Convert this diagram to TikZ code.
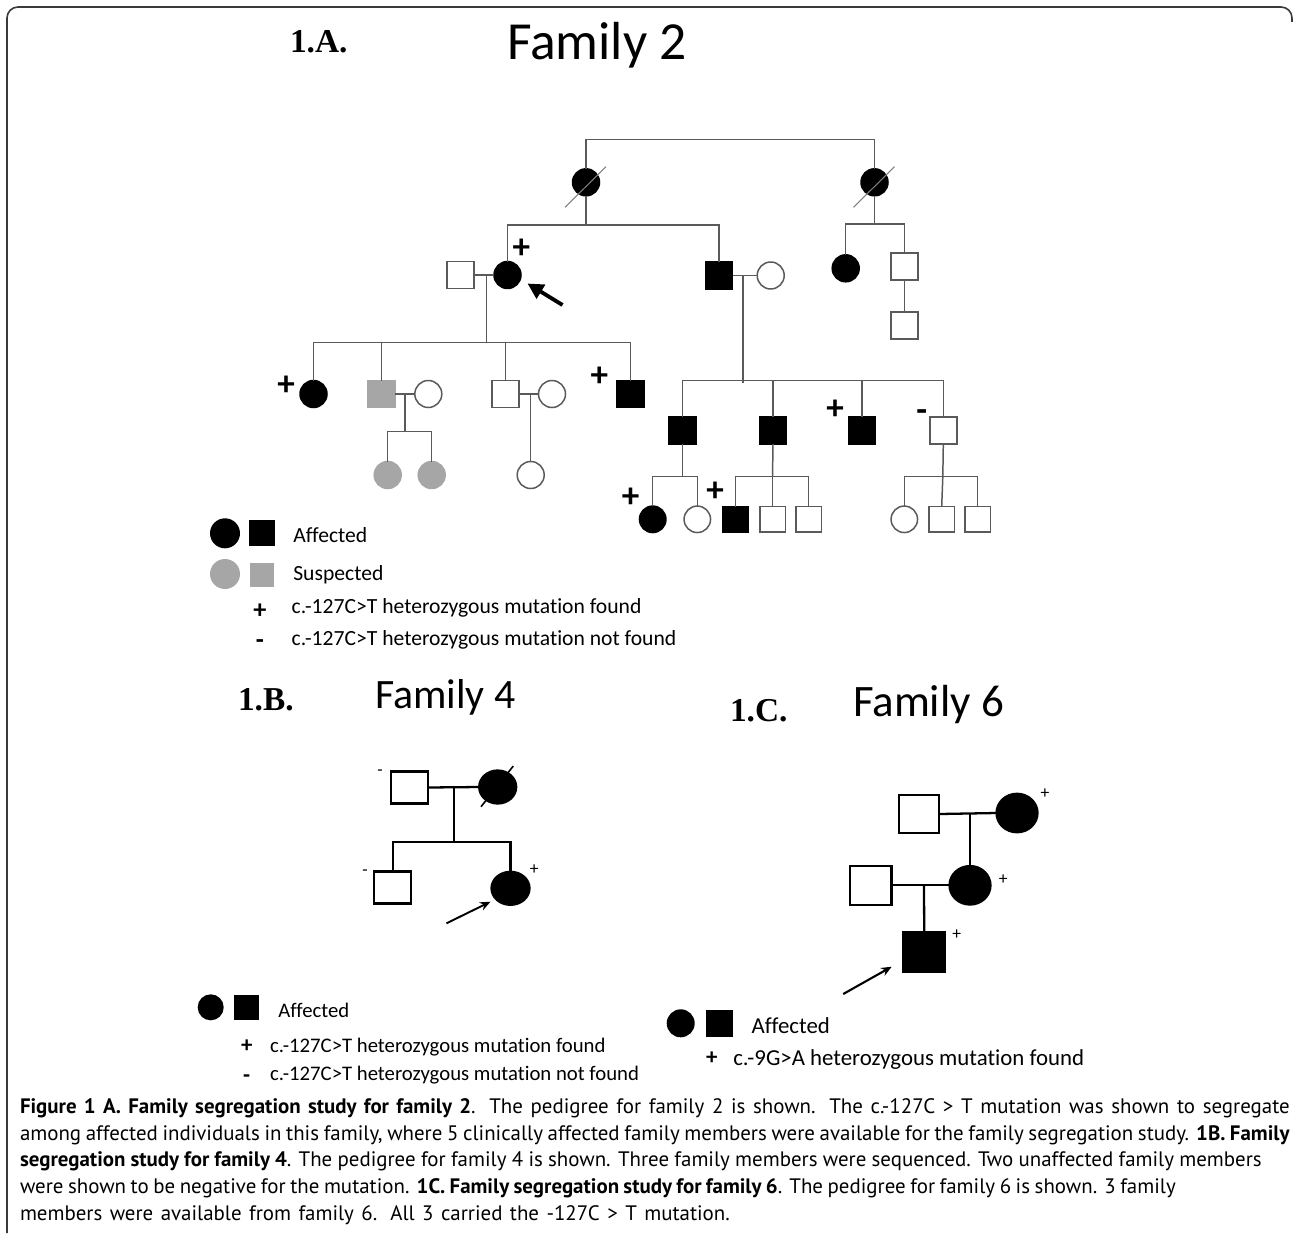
\documentclass[tikz,border=0pt]{standalone}
\usepackage{fontspec}
\setmainfont{Carlito}[Ligatures=NoCommon]
\newfontfamily\tnr{Liberation Serif}
\newfontfamily\capfont{PT Sans}
\usetikzlibrary{calc,arrows.meta,shapes.geometric}
\definecolor{susgray}{HTML}{A6A6A6}
\definecolor{lngray}{HTML}{5A5A5A}
\definecolor{framec}{HTML}{3A3A3A}
\begin{document}
\begin{tikzpicture}[x=0.02cm,y=-0.02cm,
  every node/.style={inner sep=0pt, outer sep=0pt},
  pa/.style={line width=0.85pt, draw=lngray},
  pb/.style={line width=1.3pt, draw=black},
  sqA/.style={rectangle, draw=lngray, line width=0.85pt, minimum size=0.54cm, fill=white},
  ciA/.style={circle, draw=lngray, line width=0.85pt, minimum size=0.54cm, fill=white},
  sqS/.style={sqA, minimum size=0.51cm},
  ciS/.style={ciA, minimum size=0.53cm},
  aff/.style={fill=black, draw=black},
  sus/.style={fill=susgray, draw=susgray},
  dec/.style={line width=0.6pt, draw=gray},
  pmA/.style={font=\fontsize{20}{20}\selectfont\bfseries, anchor=base},
  pmB/.style={font=\fontsize{10}{10}\selectfont, anchor=base},
  pmL/.style={font=\fontsize{15}{15}\selectfont\bfseries, anchor=base},
  sqB/.style={rectangle, draw=black, line width=1.3pt, minimum width=0.74cm, minimum height=0.64cm, fill=white},
  ciB/.style={ellipse, draw=black, line width=1.3pt, minimum width=0.74cm, minimum height=0.66cm, fill=black},
  sqC/.style={rectangle, draw=black, line width=1.3pt, minimum width=0.80cm, minimum height=0.76cm, fill=white},
  ciC/.style={ellipse, draw=black, line width=1.3pt, minimum width=0.82cm, minimum height=0.77cm, fill=black},
  lgA/.style={font=\fontsize{12.3}{14}\selectfont, anchor=base west},
  lgB/.style={font=\fontsize{11.8}{14}\selectfont, anchor=base west},
  lgC/.style={font=\fontsize{13}{15}\selectfont, anchor=base west},
  ttl/.style={anchor=base west},
  capl/.style={anchor=base west, font=\capfont\fontsize{11.9}{14}\selectfont}
]
\useasboundingbox (0,0) rectangle (1293,1233);
\fill[white] (0,0) rectangle (1293,1233);
% frame
\draw[line width=0.9pt, framec, rounded corners=0.22cm] (7,1233) -- (7,7) -- (1292,7) -- (1292,22);

% titles
\node[ttl, font=\tnr\bfseries\fontsize{19}{19}\selectfont] (tA) at (290,53) {1.A.};
\node[ttl, font=\fontsize{30.5}{30}\selectfont] (fA) at (507,60) {Family 2};
\node[ttl, font=\tnr\bfseries\fontsize{19}{19}\selectfont] (tB) at (238,710.7) {1.B.};
\node[ttl, font=\fontsize{23.8}{24}\selectfont] (fB) at (375,708.3) {Family 4};
\node[ttl, font=\tnr\bfseries\fontsize{19}{19}\selectfont] (tC) at (730,721.7) {1.C.};
\node[ttl, font=\fontsize{25.6}{26}\selectfont] (fC) at (853,716.7) {Family 6};

% ===== Family 2 =====
\node[ciA,aff] (gm1) at (586,182.3) {};
\node[ciA,aff] (gm2) at (874.5,182.3) {};
\draw[dec] ($(gm1)+(-21,25)$) -- ($(gm1)+(20,-15.6)$);
\draw[dec] ($(gm2)+(-21,25)$) -- ($(gm2)+(20,-15.6)$);
\coordinate (top) at (730,139.3);
\draw[pa] (gm1.north) |- (top) -| (gm2.north);

\coordinate (s1) at (586,225);
\draw[pa] (gm1.south) -- (s1);
\node[ciA,aff] (pro) at (507.5,275) {};
\node[sqA,aff] (bro) at (719,275.5) {};
\draw[pa] (pro.north) |- (s1) -| (bro.north);
\node[sqA] (h1) at (460.7,275) {};
\draw[pa] (h1.east) -- (pro.west);
\coordinate (m1) at (486.5,275);
\coordinate (s2) at (486.5,342.7);
\draw[pa] (m1) -- (s2);
\node[pmA] (p1) at (521.4,258.5) {+};
\coordinate (arAs) at ($(pro)+(55,30)$);
\coordinate (arAe) at ($(pro)+(20,8.5)$);
\draw[line width=2.2pt, black, -{Triangle[length=9pt,width=9pt]}] (arAs) -- (arAe);

% second family of grandmother 2
\coordinate (s8) at (874.5,224);
\draw[pa] (gm2.south) -- (s8);
\node[ciA,aff] (d2) at (845.7,268.3) {};
\node[sqA] (sn2) at (904.3,266.7) {};
\draw[pa] (d2.north) |- (s8) -| (sn2.north);
\node[sqA] (gs2) at (904.3,325.7) {};
\draw[pa] (sn2.south) -- (gs2.north);

% proband's children
\node[ciA,aff] (c1) at (313.5,394) {};
\node[sqA,sus] (c2) at (381.7,394) {};
\node[ciA] (c2w) at (428.3,394) {};
\node[sqA] (c3) at (505.7,394) {};
\node[ciA] (c3w) at (552,394) {};
\node[sqA,aff] (c4) at (630.7,394) {};
\draw[pa] (c1.north) |- (s2) -| (c4.north);
\draw[pa] (c2.north) -- (c2.north |- s2);
\draw[pa] (c3.north) -- (c3.north |- s2);
\draw[pa] (c2.east) -- (c2w.west);
\draw[pa] (c3.east) -- (c3w.west);
\coordinate (m2) at (405,394);
\coordinate (s3) at (405,431.7);
\draw[pa] (m2) -- (s3);
\node[ciA,sus] (g1) at (387.7,475) {};
\node[ciA,sus] (g2) at (431.7,475) {};
\draw[pa] (g1.north) |- (s3) -| (g2.north);
\coordinate (m3) at (530.7,394);
\node[ciA] (g3) at (530.7,475) {};
\draw[pa] (m3) -- (g3.north);
\node[pmA] (p2) at (286,395) {+};
\node[pmA] (p3) at (599.3,386) {+};

% brother's family
\node[ciA] (bw) at (770.7,275.5) {};
\draw[pa] (bro.east) -- (bw.west);
\coordinate (m4) at (742.8,275.5);
\coordinate (s4) at (742.8,380.7);
\draw[pa] (m4) -- ($(s4)+(0,2.5)$);
\node[sqA,aff] (k1) at (682.3,430.7) {};
\node[sqA,aff] (k2) at (773,430.7) {};
\node[sqA,aff] (k3) at (862,430.7) {};
\node[sqA] (k4) at (943.3,430.7) {};
\draw[pa] (k1.north) |- (s4) -| (k4.north);
\draw[pa] (k2.north) -- (k2.north |- s4);
\draw[pa] (k3.north) -- (k3.north |- s4);
\node[pmA] (p4) at (835,419.3) {+};
\node[pmA] (p5) at (921.7,421) {-};

\coordinate (s5) at (682.3,476.7);
\draw[pa] (k1.south) -- (s5);
\node[ciS,aff] (gk1) at (652.7,519.3) {};
\node[ciS] (gk2) at (697.3,519.3) {};
\draw[pa] (gk1.north) |- (s5) -| (gk2.north);
\node[pmA] (p6) at (630.7,507) {+};

\coordinate (s6) at (772.5,476.7);
\draw[pa] (k2.south) -- (s6);
\node[sqS,aff] (gk3) at (735.5,519.3) {};
\node[sqS] (gk4) at (772.5,519.3) {};
\node[sqS] (gk5) at (808.5,519.3) {};
\draw[pa] (gk3.north) |- (s6) -| (gk5.north);
\draw[pa] (gk4.north) -- (s6);
\node[pmA] (p7) at (715,501) {+};

\coordinate (s7) at (942.8,476.7);
\draw[pa] (k4.south) -- (s7);
\node[ciS] (gk6) at (904.3,519.3) {};
\node[sqS] (gk7) at (941.7,519.3) {};
\node[sqS] (gk8) at (977.7,519.3) {};
\draw[pa] (gk6.north) |- (s7) -| (gk8.north);
\draw[pa] (gk7.north) -- (s7);

% legend family 2
\node[circle, fill=black, minimum size=0.6cm] (la1) at (225,533.3) {};
\node[rectangle, fill=black, minimum size=0.52cm] (la2) at (261.7,533.3) {};
\node[lgA] (la3) at (293.3,542) {Affected};
\node[circle, fill=susgray, minimum size=0.6cm] (la4) at (225,574) {};
\node[rectangle, fill=susgray, minimum size=0.48cm] (la5) at (261.7,575) {};
\node[lgA] (la6) at (293.3,580) {Suspected};
\node[pmL] (la7) at (260,618.5) {+};
\node[lgA] (la8) at (291.7,613.5) {c.-127C>T heterozygous mutation found};
\node[pmL] (la9) at (260,648) {-};
\node[lgA] (la10) at (291.7,645.5) {c.-127C>T heterozygous mutation not found};

% ===== Family 4 =====
\node[sqB] (f4f) at (409.3,787.5) {};
\node[ciB] (f4m) at (497.7,787) {};
\draw[line width=0.9pt] ($(f4m)+(-16.7,19.7)$) -- ($(f4m)+(15.6,-21)$);
\draw[pb] (f4f.east) -- (f4m.west);
\coordinate (j4) at (454,787.3);
\coordinate (s9) at (454,841.7);
\draw[pb] (j4) -- (s9);
\node[sqB] (f4s) at (392.7,887.5) {};
\node[ciB, minimum width=0.76cm] (f4d) at (510.5,888.3) {};
\draw[pb] (f4s.north) |- (s9) -| (f4d.north);
\node[pmB] (q1) at (380,775) {-};
\node[pmB] (q2) at (365,875.5) {-};
\node[pmB] (q3) at (534.3,874) {+};
\coordinate (arBs) at ($(f4d)+(-64,35)$);
\coordinate (arBe) at ($(f4d)+(-20,13.4)$);
\draw[line width=1.1pt, -{Stealth[length=6pt,width=5pt]}] (arBs) -- (arBe);

% legend family 4
\node[circle, fill=black, minimum size=0.52cm] (lb1) at (210.7,1007.3) {};
\node[rectangle, fill=black, minimum size=0.5cm] (lb2) at (246.7,1007.3) {};
\node[lgB] (lb3) at (278.3,1017.7) {Affected};
\node[pmL, font=\fontsize{13}{13}\selectfont\bfseries] (lb4) at (246.7,1052) {+};
\node[lgB] (lb5) at (270,1052.7) {c.-127C>T heterozygous mutation found};
\node[pmL, font=\fontsize{13}{13}\selectfont\bfseries] (lb6) at (246.7,1082.5) {-};
\node[lgB] (lb7) at (270,1080) {c.-127C>T heterozygous mutation not found};

% ===== Family 6 =====
\node[sqC] (f6a) at (919.3,814) {};
\node[ciC] (f6b) at (1017,813) {};
\draw[pb] (f6a.east) -- (f6b.west);
\coordinate (j6) at (970,813.8);
\node[ciC] (f6c) at (970,885.3) {};
\draw[pb] (j6) -- (f6c.north);
\node[sqC, minimum width=0.83cm, minimum height=0.78cm] (f6d) at (870.8,885.3) {};
\draw[pb] (f6d.east) -- (f6c.west);
\coordinate (j7) at (924,885.3);
\node[sqC, fill=black, minimum width=0.83cm, minimum height=0.80cm] (f6e) at (924.2,951.7) {};
\draw[pb] (j7) -- (f6e.north);
\node[pmB] (r1) at (1045,798.2) {+};
\node[pmB] (r2) at (1003.3,884.5) {+};
\node[pmB] (r3) at (956.7,939.5) {+};
\coordinate (arCs) at ($(f6e)+(-81,42.3)$);
\coordinate (arCe) at ($(f6e)+(-32.5,15)$);
\draw[line width=1.2pt, -{Stealth[length=6pt,width=5pt]}] (arCs) -- (arCe);

% legend family 6
\node[circle, fill=black, minimum size=0.56cm] (lc1) at (680.7,1023.3) {};
\node[rectangle, fill=black, minimum size=0.54cm] (lc2) at (719.3,1023.3) {};
\node[lgC] (lc3) at (751.7,1033.3) {Affected};
\node[pmL, font=\fontsize{13}{13}\selectfont\bfseries] (lc4) at (711.7,1064) {+};
\node[lgC] (lc5) at (733.3,1065.7) {c.-9G>A heterozygous mutation found};

% ===== caption =====
\node[capl] (cap1) at (20,1113) {\makebox[25.4cm][s]{\textbf{Figure 1 A. Family segregation study for family 2}. The pedigree for family 2 is shown. The c.-127C > T mutation was shown to segregate}};
\node[capl] (cap2) at (20,1140) {\makebox[25.4cm][s]{among affected individuals in this family, where 5 clinically affected family members were available for the family segregation study. \textbf{1B. Family}}};
\node[capl] (cap3) at (20,1166) {\makebox[24.84cm][s]{\textbf{segregation study for family 4}. The pedigree for family 4 is shown. Three family members were sequenced. Two unaffected family members}};
\node[capl] (cap4) at (20,1193) {\makebox[23.12cm][s]{were shown to be negative for the mutation. \textbf{1C. Family segregation study for family 6}. The pedigree for family 6 is shown. 3 family}};
\node[capl] (cap5) at (20,1220) {\makebox[14.2cm][s]{members were available from family 6. All 3 carried the -127C > T mutation.}};
\end{tikzpicture}
\end{document}
